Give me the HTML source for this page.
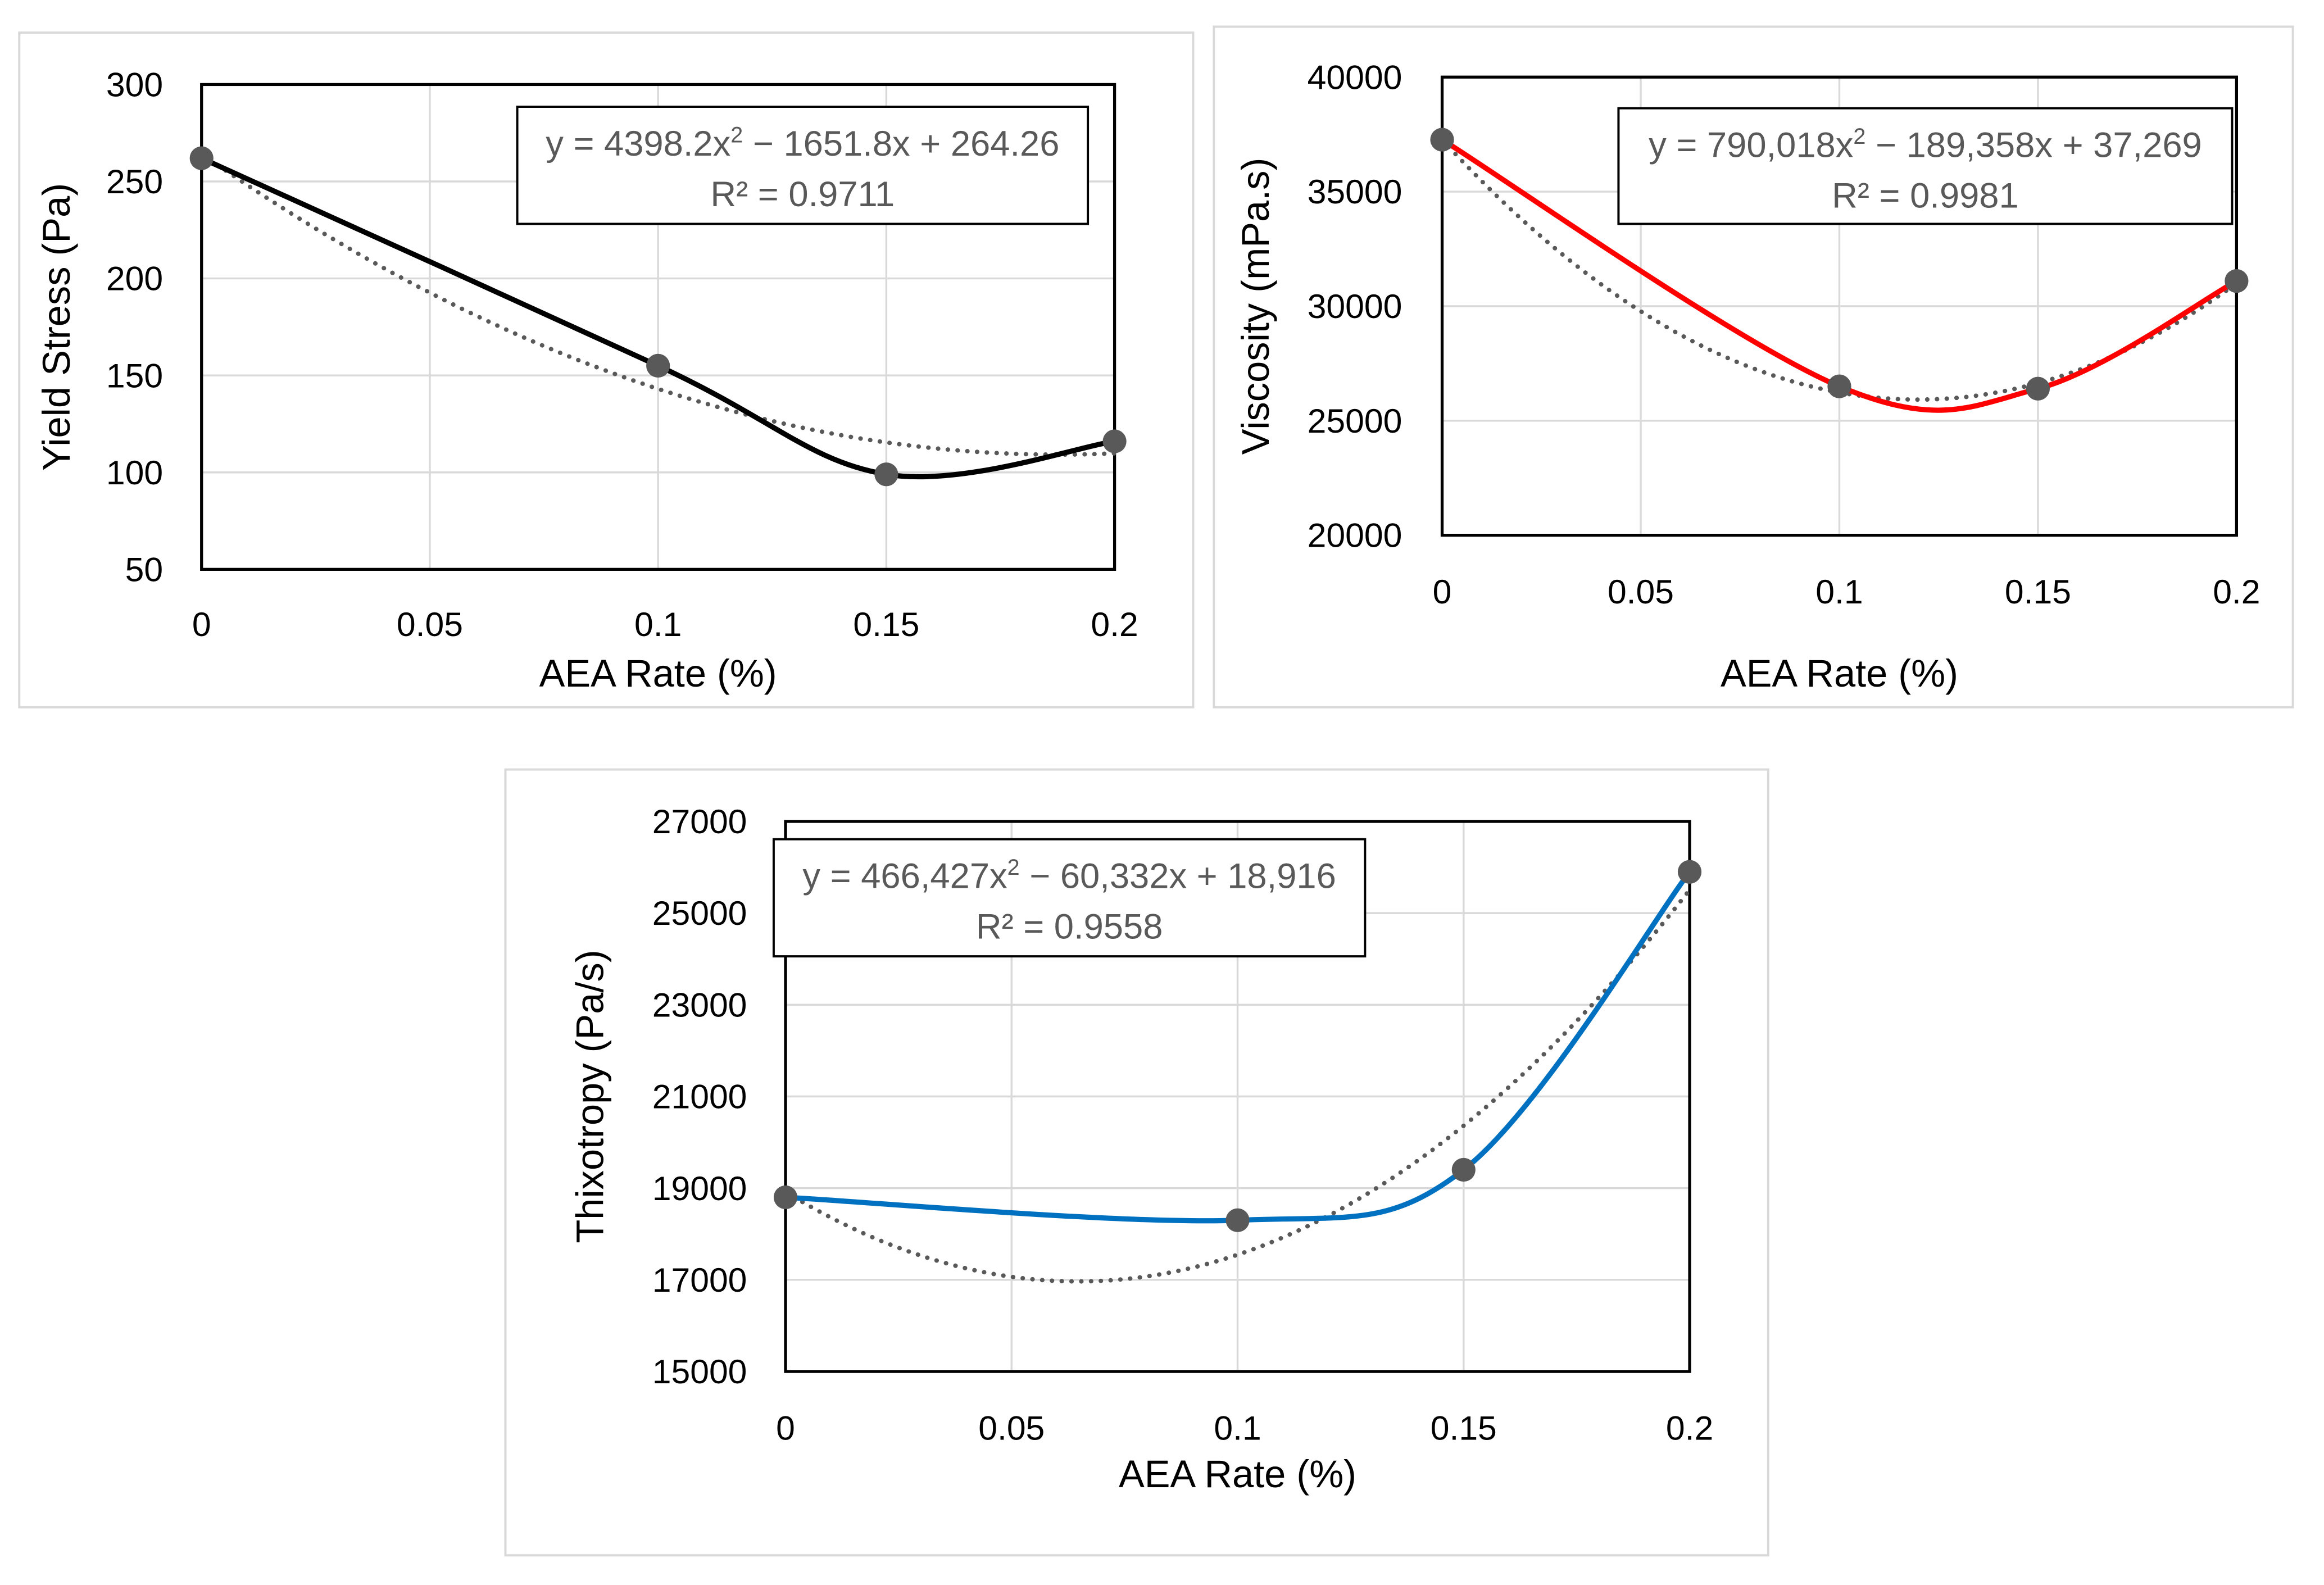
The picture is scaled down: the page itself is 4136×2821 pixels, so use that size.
<!DOCTYPE html>
<html><head><meta charset="utf-8"><style>
html,body{margin:0;padding:0;background:#fff}
svg{display:block}
text{font-family:"Liberation Sans Narrow","Liberation Sans",sans-serif}
</style></head><body>
<svg id="s" width="4136" height="2821" viewBox="0 0 1568 1069" preserveAspectRatio="none" xmlns="http://www.w3.org/2000/svg"></svg>
<script>
const xVals=[0,0.1,0.15,0.2];
const yieldVals=[262,155,99,116];
const viscVals=[37269,26500,26400,31100];
const thixVals=[18800,18300,19400,25900];
const xTicks=[0,0.05,0.1,0.15,0.2];
const xTickLabels=["0","0.05","0.1","0.15","0.2"];
const yieldTicks=[50,100,150,200,250,300];
const viscTicks=[20000,25000,30000,35000,40000];
const thixTicks=[15000,17000,19000,21000,23000,25000,27000];
const yieldCoef=[4398.2,-1651.8,264.26];
const viscCoef=[790018,-189358,37269];
const thixCoef=[466427,-60332,18916];

const NS="http://www.w3.org/2000/svg";
const svg=document.getElementById('s');
function mk(tag,attrs,parent,txt){const e=document.createElementNS(NS,tag);for(const k in attrs)e.setAttribute(k,attrs[k]);if(txt!==undefined)e.textContent=txt;(parent||svg).appendChild(e);return e;}

function chart(cfg){
  const g=mk('g',{});
  
  
  const o=mk('rect',{x:cfg.outer[0],y:cfg.outer[1],width:cfg.outer[2]-cfg.outer[0],height:cfg.outer[3]-cfg.outer[1],fill:'#fff',stroke:'#d9d9d9','stroke-width':1.5},g);
  
  const [L,T,R,B]=cfg.plot;const yMin=cfg.yTicks[0],yMax=cfg.yTicks[cfg.yTicks.length-1];
  const sx=v=>L+(v-xTicks[0])/(xTicks[xTicks.length-1]-xTicks[0])*(R-L);
  const sy=v=>B-(v-yMin)/(yMax-yMin)*(B-T);
  xTicks.forEach((t,i)=>{
    const l=mk('line',{x1:sx(t),x2:sx(t),y1:T,y2:B,stroke:'#d9d9d9','stroke-width':1.3},g);
    
    const tx=mk('text',{x:sx(t),y:cfg.xLabY,'text-anchor':'middle','font-size':23,fill:'#000'},g,xTickLabels[i]);
    
  });
  cfg.yTicks.forEach(t=>{
    const l=mk('line',{x1:L,x2:R,y1:sy(t),y2:sy(t),stroke:'#d9d9d9','stroke-width':1.3},g);
    
    const tx=mk('text',{x:cfg.yLabX,y:sy(t)+8,'text-anchor':'end','font-size':23,fill:'#000'},g,String(t));
    
  });
  const pr=mk('rect',{x:L,y:T,width:R-L,height:B-T,fill:'none',stroke:'#000','stroke-width':2},g);
  
  let d='';const c=cfg.coef;
  for(let i=0;i<=100;i++){const x=xTicks[0]+i/100*(xTicks[xTicks.length-1]-xTicks[0]);const y=c[0]*x*x+c[1]*x+c[2];d+=(i?'L':'M')+sx(x).toFixed(2)+','+sy(y).toFixed(2);}
  const tl=mk('path',{d:d,fill:'none',stroke:'#595959','stroke-width':3,'stroke-dasharray':'0.1 6.5','stroke-linecap':'round'},g);
  
  const P=xVals.map((x,i)=>[sx(x),sy(cfg.vals[i])]);
  let sd='M'+P[0][0]+','+P[0][1];
  for(let i=0;i<P.length-1;i++){
    const p0=P[Math.max(0,i-1)],p1=P[i],p2=P[i+1],p3=P[Math.min(P.length-1,i+2)];
    const k=1/6;
    const c1=[p1[0]+(p2[0]-p0[0])*k,p1[1]+(p2[1]-p0[1])*k];
    const c2=[p2[0]-(p3[0]-p1[0])*k,p2[1]-(p3[1]-p1[1])*k];
    sd+=`C${c1[0]},${c1[1]} ${c2[0]},${c2[1]} ${p2[0]},${p2[1]}`;
  }
  const sl=mk('path',{d:sd,fill:'none',stroke:cfg.color,'stroke-width':3.5},g);
  
  P.forEach(p=>{const m=mk('circle',{cx:p[0],cy:p[1],r:8,fill:'#595959'},g);
    });
  const [bx1,by1,bx2,by2]=cfg.box;
  const eb=mk('g',{},g);
  mk('rect',{x:bx1,y:by1,width:bx2-bx1,height:by2-by1,fill:'#fff',stroke:'#000','stroke-width':1.5},eb);
  const cx=(bx1+bx2)/2;
  const t1=mk('text',{x:cx,y:by1+33,'text-anchor':'middle','font-size':24,fill:'#595959'},eb);
  t1.innerHTML=cfg.eq1;
  mk('text',{x:cx,y:by1+67,'text-anchor':'middle','font-size':24,fill:'#595959'},eb,cfg.eq2);
  const xt=mk('text',{x:(L+R)/2,y:cfg.xTitleY,'text-anchor':'middle','font-size':26,fill:'#000'},g,'AEA Rate (%)');
  
  const yc=(T+B)/2;
  const yt=mk('text',{x:cfg.yTitleX,y:yc,'text-anchor':'middle','font-size':26,fill:'#000',transform:`rotate(-90 ${cfg.yTitleX} ${yc})`},g,cfg.yTitle);
  
}
chart({name:'yield-stress-chart',outer:[13,22,805,477],plot:[136,57,752,384],yTicks:yieldTicks,vals:yieldVals,coef:yieldCoef,color:'#000',
  box:[349,72,734,151],eq1:'y = 4398.2x<tspan dy="-9" font-size="15">2</tspan><tspan dy="9"> − 1651.8x + 264.26</tspan>',eq2:'R² = 0.9711',
  xLabY:429,yLabX:110,xTitleY:463,yTitleX:47,yTitle:'Yield Stress (Pa)'});
chart({name:'viscosity-chart',outer:[819,18,1547,477],plot:[973,52,1509,361],yTicks:viscTicks,vals:viscVals,coef:viscCoef,color:'#ff0000',
  box:[1092,73,1506,151],eq1:'y = 790,018x<tspan dy="-9" font-size="15">2</tspan><tspan dy="9"> − 189,358x + 37,269</tspan>',eq2:'R² = 0.9981',
  xLabY:407,yLabX:946,xTitleY:463,yTitleX:856,yTitle:'Viscosity (mPa.s)'});
chart({name:'thixotropy-chart',outer:[341,519,1193,1049],plot:[530,554,1140,925],yTicks:thixTicks,vals:thixVals,coef:thixCoef,color:'#0070c0',
  box:[522,566,921,645],eq1:'y = 466,427x<tspan dy="-9" font-size="15">2</tspan><tspan dy="9"> − 60,332x + 18,916</tspan>',eq2:'R² = 0.9558',
  xLabY:971,yLabX:504,xTitleY:1003,yTitleX:407,yTitle:'Thixotropy (Pa/s)'});
</script>
</body></html>
